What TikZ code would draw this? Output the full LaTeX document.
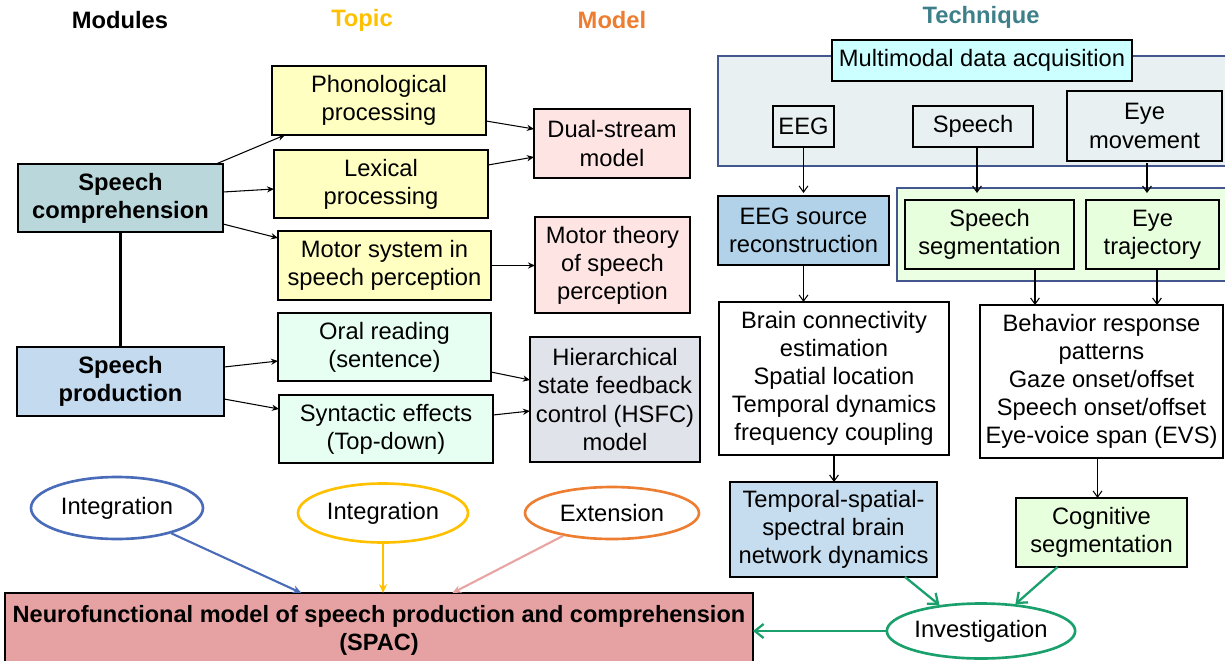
\documentclass[tikz,border=0pt]{standalone}
\usepackage{fontspec}
\setmainfont{Liberation Sans}
\usetikzlibrary{arrows.meta,shapes.geometric}

\definecolor{compfill}{HTML}{BAD8DC}
\definecolor{prodfill}{HTML}{C4DAEE}
\definecolor{yelfill}{HTML}{FFFFC2}
\definecolor{mintfill}{HTML}{E6FFF2}
\definecolor{pinkfill}{HTML}{FFE4E4}
\definecolor{grayfill}{HTML}{E1E3EA}
\definecolor{techfill}{HTML}{E8F0F1}
\definecolor{techline}{HTML}{44568E}
\definecolor{cyanfill}{HTML}{CCFFFF}
\definecolor{srcfill}{HTML}{B2D2EA}
\definecolor{netfill}{HTML}{C6DDEF}
\definecolor{grpfill}{HTML}{EBFFE3}
\definecolor{segfill}{HTML}{E7FFDC}
\definecolor{spacfill}{HTML}{E6A2A2}
\definecolor{modblue}{HTML}{4A6BB8}
\definecolor{topicgold}{HTML}{FFC000}
\definecolor{modelorange}{HTML}{ED7D31}
\definecolor{extpink}{HTML}{E9A3A3}
\definecolor{techteal}{HTML}{3E8089}
\definecolor{invgreen}{HTML}{19A06C}

\begin{document}
\begin{tikzpicture}[
  x=0.02cm, y=-0.02cm,
  font=\fontsize{13.5}{16}\selectfont,
  wh/.style 2 args={minimum width=#1*0.02cm, minimum height=#2*0.02cm, anchor=north west},
  box/.style={draw=black, line width=1.2pt, inner sep=0pt, outer sep=0pt, align=center},
  modbox/.style={box, font=\fontsize{13.5}{16}\selectfont\bfseries},
  group/.style={draw=techline, line width=1pt, inner sep=0pt, outer sep=0pt},
  hdr/.style={font=\fontsize{13.5}{16}\selectfont\bfseries, inner sep=0pt},
  oval/.style={ellipse, draw, line width=1.5pt, inner sep=0pt},
  arr/.style={-{Stealth[length=4pt,width=3.5pt]}, line width=0.6pt},
  darr/.style={-{Straight Barb[length=3.5pt,width=5pt]}, line width=0.6pt},
  garr/.style={-{Straight Barb[length=5pt,width=8pt]}, line width=1.3pt, draw=invgreen},
  carr/.style={-{Stealth[length=5pt,width=4.5pt]}, line width=1.2pt}
]
\useasboundingbox (0,0) rectangle (1225,660);

% column headings
\node[hdr] (hmod) at (120,20) {Modules};
\node[hdr, text=topicgold] (htopic) at (362,20) {Topic};
\node[hdr, text=modelorange] (hmodel) at (612,20) {Model};
\node[hdr, text=techteal] (htech) at (981,17) {Technique};

% modules
\node[modbox, fill=compfill, wh={205}{68}] (comp) at (18,164) {Speech\\comprehension};
\node[modbox, fill=prodfill, wh={207}{69}] (prod) at (17,347) {Speech\\production};

% topics
\node[box, fill=yelfill, wh={214}{69}] (phon) at (272,66) {Phonological\\processing};
\node[box, fill=yelfill, wh={214}{68}] (lex) at (274,150) {Lexical\\processing};
\node[box, fill=yelfill, wh={213}{69}] (motor) at (278,231) {Motor system in\\speech perception};
\node[box, fill=mintfill, wh={213}{68}] (oral) at (278,313) {Oral reading\\(sentence)};
\node[box, fill=mintfill, wh={214}{68}] (syn) at (279,395) {Syntactic effects\\(Top-down)};

% models
\node[box, fill=pinkfill, wh={156}{69}] (dual) at (534,109) {Dual-stream\\model};
\node[box, fill=pinkfill, wh={155}{96}] (mtheory) at (535,217) {Motor theory\\of speech\\perception};
\node[box, fill=grayfill, wh={170}{125}] (hsfc) at (530,337) {Hierarchical\\state feedback\\control (HSFC)\\model};

% module links
\draw[line width=1.2pt] (comp.south) -- (prod.north);
\draw[arr] ([xshift=-0.14cm]comp.north east) -- ([xshift=0.26cm]phon.south west);
\draw[arr] ([yshift=0.12cm]comp.east) -- ([yshift=-0.1cm]lex.west);
\draw[arr] ([yshift=0.16cm]comp.south east) -- ([yshift=-0.14cm]motor.north west);
\draw[arr] ([yshift=0.29cm]prod.east) -- ([yshift=-0.28cm]oral.west);
\draw[arr] ([yshift=-0.35cm]prod.east) -- ([yshift=0.4cm]syn.west);

% topic to model links
\draw[arr] ([yshift=-0.41cm]phon.east) -- ([yshift=0.29cm]dual.west);
\draw[arr] ([yshift=0.38cm]lex.east) -- ([yshift=-0.27cm]dual.west);
\draw[arr] (motor.east) -- (motor.east -| mtheory.west);
\draw[arr] ([yshift=-0.5cm]oral.east) -- ([yshift=0.39cm]hsfc.west);
\draw[arr] ([yshift=0.28cm]syn.east) -- ([yshift=-0.23cm]hsfc.west);

% technique: acquisition group
\node[group, fill=techfill, wh={517}{110}] (acq) at (718,56) {};
\node[box, fill=cyanfill, wh={300}{41}] (multi) at (832,40) {Multimodal data acquisition};
\node[box, fill=techfill, wh={61}{41}] (eeg) at (773,106) {EEG};
\node[box, fill=techfill, wh={120}{41}] (speech) at (913,106) {Speech};
\node[box, fill=techfill, wh={155}{70}] (eye) at (1067,91) {Eye\\movement};

% technique: processing
\node[box, fill=srcfill, wh={171}{69}] (src) at (718,196) {EEG source\\reconstruction};
\node[group, fill=grpfill, wh={338}{93}] (grp) at (897,188) {};
\node[box, fill=segfill, wh={169}{69}] (seg) at (905,200) {Speech\\segmentation};
\node[box, fill=segfill, wh={133}{69}] (traj) at (1086,200) {Eye\\trajectory};

\node[box, fill=white, wh={230}{153}] (brain) at (719,302) {Brain connectivity\\estimation\\Spatial location\\Temporal dynamics\\frequency coupling};
\node[box, fill=white, wh={243}{153}] (behav) at (980,305) {Behavior response\\patterns\\Gaze onset/offset\\Speech onset/offset\\Eye-voice span (EVS)};

\node[box, fill=netfill, wh={207}{95}] (net) at (730,482) {Temporal-spatial-\\spectral brain\\network dynamics};
\node[box, fill=segfill, wh={171}{69}] (cog) at (1016,498) {Cognitive\\segmentation};

% technique arrows
\draw[darr, shorten >=0.06cm] (eeg.south) -- (src.north);
\draw[darr, shorten >=0.14cm] ([xshift=0.08cm]speech.south) -- ([xshift=0.08cm]speech.south |- seg.north);
\draw[darr, shorten >=0.14cm] ([xshift=0.05cm,yshift=-0.04cm]eye.south) -- ([xshift=0.05cm]eye.south |- traj.north);
\draw[darr] (src.south) -- (src.south |- brain.north);
\draw[darr] ([xshift=-0.78cm]seg.south east) -- ([xshift=-0.78cm]seg.south east |- behav.north);
\draw[darr] ([xshift=0.09cm]traj.south) -- ([xshift=0.09cm]traj.south |- behav.north);
\draw[darr] (brain.south) -- (brain.south |- net.north);
\draw[darr] ([xshift=-0.08cm]behav.south) -- ([xshift=-0.08cm]behav.south |- cog.north);

% summary model
\node[box, fill=spacfill, font=\fontsize{13.4}{15.5}\selectfont\bfseries, wh={748}{75}] (spac) at (5,593) {Neurofunctional model of speech production and comprehension\\(SPAC)};

% relations
\node[oval, draw=modblue, minimum width=172*0.02cm, minimum height=62*0.02cm] (int1) at (117,508) {Integration};
\node[oval, draw=topicgold, minimum width=170*0.02cm, minimum height=59*0.02cm] (int2) at (383,513) {Integration};
\node[oval, draw=modelorange, minimum width=174*0.02cm, minimum height=52*0.02cm] (ext) at (612,513) {Extension};
\node[oval, draw=invgreen, minimum width=182*0.02cm, minimum height=55*0.02cm] (invest) at (981,631) {Investigation};

\draw[carr, draw=modblue] (int1.-25) -- ([xshift=5.93cm]spac.north west);
\draw[carr, draw=topicgold] (int2.south) -- (int2.south |- spac.north);
\draw[carr, draw=extpink] (ext.205) -- ([xshift=8.95cm]spac.north west);

\draw[garr] ([xshift=-0.64cm]net.south east) -- (invest.148);
\draw[garr] ([xshift=-0.88cm]cog.south) -- (invest.38);
\draw[garr] (invest.west) -- (invest.west -| spac.east);
\end{tikzpicture}
\end{document}
